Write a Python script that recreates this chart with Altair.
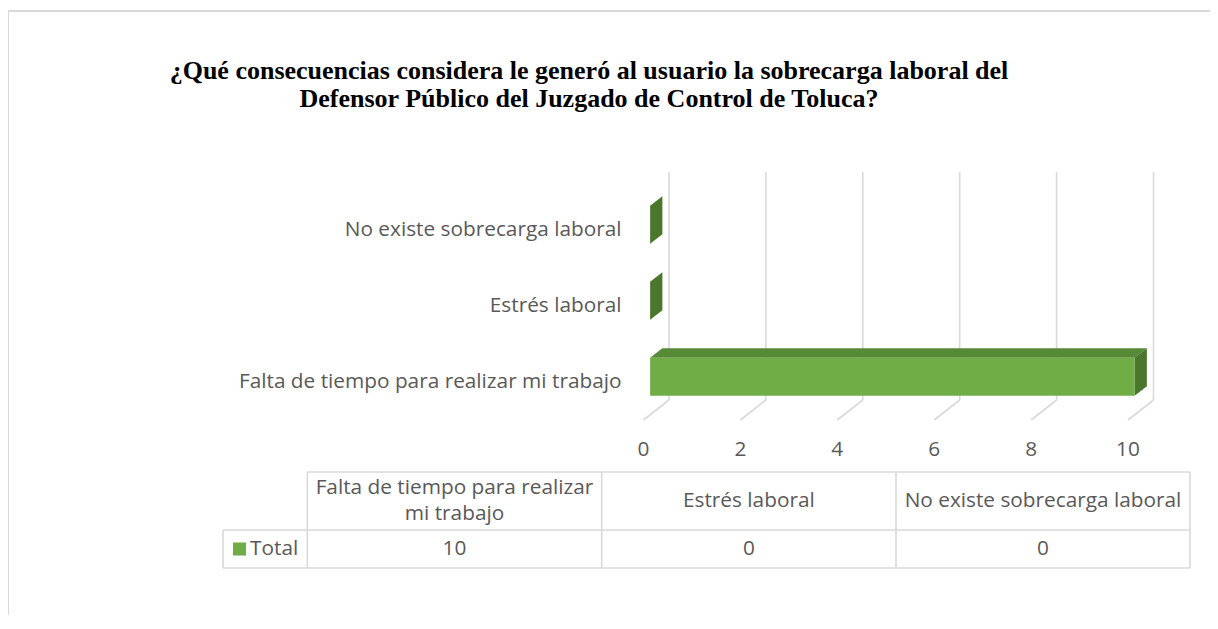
import altair as alt
import pandas as pd

# ---------------- data ----------------
categories = ["Falta de tiempo para realizar mi trabajo", "Estrés laboral", "No existe sobrecarga laboral"]
values = [10, 0, 0]
series_name = "Total"
x_ticks = [0, 2, 4, 6, 8, 10]
table_headers = [["Falta de tiempo para realizar", "mi trabajo"], ["Estrés laboral"], ["No existe sobrecarga laboral"]]
title_lines = [
    "¿Qué consecuencias considera le generó al usuario la sobrecarga laboral del",
    "Defensor Público del Juzgado de Control de Toluca?",
]

# ---------------- style / layout ----------------
FONT = "Open Sans"
FS = 20.8
TXT = "#595959"
GRID = "#d9d9d9"
C_FRONT = "#70AD47"
C_TOP = "#578A36"
C_SIDE = "#4A772C"
LINE_H = 26

W, H = 1202, 604
OX, OY = 8, 11  # page offset of plot origin
X_RANGE = [643.5 - OX, 1128 - OX]
Y_RANGE = [420 - OY, 192 - OY]
N = len(categories)
XMAX = 10
px_x = (X_RANGE[1] - X_RANGE[0]) / XMAX
px_y = (Y_RANGE[0] - Y_RANGE[1]) / N
DXU = 25.5 / px_x  # depth in data units
DYU = 20.0 / px_y
F0, F1 = 0.26, 0.74  # bar depth span
B0, B1 = 0.25, 0.75  # bar band span

xs = alt.Scale(domain=[0, XMAX], range=X_RANGE, nice=False, zero=False)
ys = alt.Scale(domain=[0, N], range=Y_RANGE, nice=False, zero=False)

def X(f, **k):
    return alt.X(f, type="quantitative", scale=xs, axis=None, **k)

def Y(f, **k):
    return alt.Y(f, type="quantitative", scale=ys, axis=None, **k)

# back wall gridlines
grid_df = pd.DataFrame({"x": [t + DXU for t in x_ticks], "y": [DYU] * len(x_ticks), "y2": [N + DYU] * len(x_ticks)})
grid = alt.Chart(grid_df).mark_rule(color=GRID, strokeWidth=1.6).encode(
    x=X("x"), y=Y("y"), y2="y2")

# floor diagonals
floor_df = pd.DataFrame({"x": x_ticks, "x2": [t + DXU for t in x_ticks], "y": [0] * len(x_ticks), "y2": [DYU] * len(x_ticks)})
floor = alt.Chart(floor_df).mark_rule(color=GRID, strokeWidth=1.6).encode(
    x=X("x"), x2="x2", y=Y("y"), y2="y2")

# bar faces
front_rows, top_rows, cap_rows = [], [], []
for i, (c, v) in enumerate(zip(categories, values)):
    y0, y1 = i + B0, i + B1
    if v > 0:
        front_rows.append({"x": F0 * DXU, "x2": v + F0 * DXU, "y": y0 + F0 * DYU, "y2": y1 + F0 * DYU})
        xa, xb, xc, xd = F0 * DXU, F1 * DXU, v + F0 * DXU, v + F1 * DXU
        def upper(x):
            t = min(max((x - xa) / (xb - xa), 0), 1)
            return y1 + F0 * DYU + t * (F1 - F0) * DYU
        def lower(x):
            t = min(max((x - xc) / (xd - xc), 0), 1)
            return y1 + F0 * DYU + t * (F1 - F0) * DYU
        for xx in sorted([xa, xb, xc, xd]):
            top_rows.append({"bar": c, "x": xx, "y": upper(xx), "y2": lower(xx)})
    for f in (F0, F1):
        cap_rows.append({"bar": c, "x": v + f * DXU, "y": y1 + f * DYU, "y2": y0 + f * DYU})

top = alt.Chart(pd.DataFrame(top_rows)).mark_area(color=C_TOP, interpolate="linear").encode(
    x=X("x"), y=Y("y"), y2="y2", detail="bar:N")
cap = alt.Chart(pd.DataFrame(cap_rows)).mark_area(color=C_SIDE, interpolate="linear").encode(
    x=X("x"), y=Y("y"), y2="y2", detail="bar:N")
front = alt.Chart(pd.DataFrame(front_rows)).mark_rect(color=C_FRONT).encode(
    x=X("x"), x2="x2", y=Y("y"), y2="y2")

# tick labels & category labels
tick_df = pd.DataFrame({"x": x_ticks, "y": [0] * len(x_ticks), "t": [str(t) for t in x_ticks]})
ticks = alt.Chart(tick_df).mark_text(font=FONT, fontSize=FS, color=TXT, dy=30, baseline="middle").encode(
    x=X("x"), y=Y("y"), text="t:N")
cat_df = pd.DataFrame({"x": [0] * N, "y": [i + 0.5 for i in range(N)], "t": categories})
cats = alt.Chart(cat_df).mark_text(font=FONT, fontSize=FS, color=TXT, dx=-22, align="right", baseline="middle").encode(
    x=X("x"), y=Y("y"), text="t:N")

# ---------------- data table ----------------
txs = alt.Scale(domain=[-1, 0, 1, 2, 3], range=[223 - OX, 307.3 - OX, 601.7 - OX, 896 - OX, 1190 - OX], nice=False, zero=False)
tys = alt.Scale(domain=[0, 1, 2], range=[472 - OY, 530 - OY, 568 - OY], nice=False, zero=False)

def TX(f, **k):
    return alt.X(f, type="quantitative", scale=txs, axis=None, **k)

def TY(f, **k):
    return alt.Y(f, type="quantitative", scale=tys, axis=None, **k)

segs = [(0, 3, 0, 0), (-1, 3, 1, 1), (-1, 3, 2, 2),
        (-1, -1, 1, 2), (0, 0, 0, 2), (1, 1, 0, 2), (2, 2, 0, 2), (3, 3, 0, 2)]
seg_df = pd.DataFrame(segs, columns=["x", "x2", "y", "y2"])
tgrid = alt.Chart(seg_df).mark_rule(color=GRID, strokeWidth=1.6).encode(
    x=TX("x"), x2="x2", y=TY("y"), y2="y2")

hdr_layers = []
for j, lines in enumerate(table_headers):
    for l, line in enumerate(lines):
        off = (l - (len(lines) - 1) / 2) * LINE_H
        d = pd.DataFrame({"x": [j + 0.5], "y": [0.5], "t": [line]})
        hdr_layers.append(
            alt.Chart(d).mark_text(font=FONT, fontSize=FS, color=TXT, baseline="middle", dy=off).encode(
                x=TX("x"), y=TY("y"), text="t:N"))

val_df = pd.DataFrame({"x": [j + 0.5 for j in range(N)], "y": [1.5] * N, "t": [str(v) for v in values]})
vals = alt.Chart(val_df).mark_text(font=FONT, fontSize=FS, color=TXT, baseline="middle").encode(
    x=TX("x"), y=TY("y"), text="t:N")

leg_df = pd.DataFrame({"x": [-1], "y": [1.5], "t": [series_name]})
leg_sq = alt.Chart(leg_df).mark_square(color=C_FRONT, opacity=1, size=170, xOffset=16.5).encode(
    x=TX("x"), y=TY("y"))
leg_tx = alt.Chart(leg_df).mark_text(font=FONT, fontSize=FS, color=TXT, align="left", baseline="middle", dx=27).encode(
    x=TX("x"), y=TY("y"), text="t:N")

# ---------------- title & frame ----------------
TFS = 26
title1 = alt.Chart(pd.DataFrame({"t": [title_lines[0]]})).mark_text(
    font="Liberation Serif", fontSize=TFS, fontWeight="bold", color="#000000", baseline="middle").encode(
    x=alt.value(589 - OX), y=alt.value(71 - OY), text="t:N")
title2 = alt.Chart(pd.DataFrame({"t": [title_lines[1]]})).mark_text(
    font="Liberation Serif", fontSize=TFS, fontWeight="bold", color="#000000", baseline="middle").encode(
    x=alt.value(589 - OX), y=alt.value(99 - OY), text="t:N")

frame_top = alt.Chart(pd.DataFrame({"a": [0]})).mark_rule(color=GRID, strokeWidth=2).encode(
    x=alt.value(0), x2=alt.value(W), y=alt.value(0))
frame_left = alt.Chart(pd.DataFrame({"a": [0]})).mark_rule(color=GRID, strokeWidth=2).encode(
    x=alt.value(0), y=alt.value(0), y2=alt.value(H))

chart = alt.layer(
    frame_top, frame_left, title1, title2,
    grid, floor, top, cap, front, ticks, cats,
    tgrid, *hdr_layers, vals, leg_sq, leg_tx,
).resolve_scale(x="independent", y="independent").properties(
    width=W, height=H, autosize="none",
    padding={"left": 0, "top": 3, "right": 0, "bottom": 0},
).configure_view(stroke=None)

chart.save("out.html", embed_options={"renderer": "svg", "actions": False})
